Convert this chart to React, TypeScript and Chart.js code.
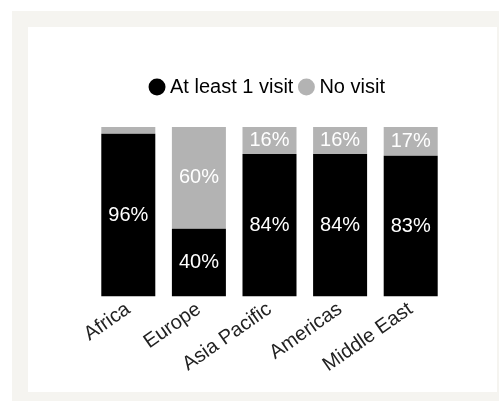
import React, { useEffect, useRef } from "react";
import { Chart, registerables } from "chart.js";

Chart.register(...registerables);

const categories = ["Africa", "Europe", "Asia Pacific", "Americas", "Middle East"];
const atLeastOneVisit = [96, 40, 84, 84, 83];
const noVisit = [4, 60, 16, 16, 17];
const seriesNames = ["At least 1 visit", "No visit"];

const FONT = "'Liberation Sans', Arial, Helvetica, sans-serif";

const labelPlugin = {
  id: "segmentLabels",
  afterDatasetsDraw(chart: any) {
    const ctx = chart.ctx;
    ctx.save();
    ctx.fillStyle = "#ffffff";
    ctx.font = `20px ${FONT}`;
    ctx.textAlign = "center";
    ctx.textBaseline = "middle";
    chart.data.datasets.forEach((ds: any, di: number) => {
      const meta = chart.getDatasetMeta(di);
      meta.data.forEach((el: any, i: number) => {
        const v = ds.data[i];
        if (v < 10) return;
        const y = (el.y + el.base) / 2;
        ctx.fillText(`${v}%`, el.x, y);
      });
    });
    ctx.restore();
  },
};

const legendGapPlugin = {
  id: "legendGap",
  beforeInit(chart: any) {
    const legend = chart.legend;
    if (!legend) return;
    const orig = legend.fit;
    legend.fit = function () {
      orig.call(this);
      this.height += 20;
    };
  },
};

export default function App() {
  const ref = useRef<HTMLCanvasElement | null>(null);
  useEffect(() => {
    if (!ref.current) return;
    const chart = new Chart(ref.current, {
      type: "bar",
      data: {
        labels: categories,
        datasets: [
          {
            label: seriesNames[0],
            data: atLeastOneVisit,
            backgroundColor: "#000000",
            borderWidth: 0,
            categoryPercentage: 0.765,
            barPercentage: 1,
          },
          {
            label: seriesNames[1],
            data: noVisit,
            backgroundColor: "#b3b3b3",
            borderWidth: 0,
            categoryPercentage: 0.765,
            barPercentage: 1,
          },
        ],
      },
      options: {
        animation: false,
        responsive: false,
        maintainAspectRatio: false,
        layout: { padding: { left: 65, right: 51, top: 40, bottom: 14 } },
        plugins: {
          legend: {
            display: true,
            position: "top",
            labels: {
              usePointStyle: true,
              pointStyle: "circle",
              boxWidth: 6,
              boxHeight: 12,
              padding: 10,
              color: "#000",
              font: { family: FONT, size: 20 },
            },
          },
          tooltip: { enabled: false },
        },
        scales: {
          x: {
            stacked: true,
            grid: { display: false, drawTicks: false },
            border: { display: false },
            ticks: {
              color: "#222",
              font: { family: FONT, size: 20 },
              minRotation: 35,
              maxRotation: 35,
              autoSkip: false,
              padding: 1,
            },
          },
          y: {
            stacked: true,
            display: false,
            min: 0,
            max: 100,
          },
        },
      },
      plugins: [labelPlugin, legendGapPlugin],
    });
    return () => chart.destroy();
  }, []);

  return (
    <div style={{ position: "fixed", left: 0, top: 0, width: 501, height: 401, background: "#ffffff", overflow: "hidden" }}>
      <div style={{ position: "absolute", left: 12, top: 11, width: 487, height: 390, background: "#f5f4f0" }} />
      <div style={{ position: "absolute", left: 28, top: 27, width: 469, height: 365, background: "#ffffff" }}>
        <canvas ref={ref} width={469} height={365} style={{ display: "block", width: 469, height: 365 }} />
      </div>
    </div>
  );
}
